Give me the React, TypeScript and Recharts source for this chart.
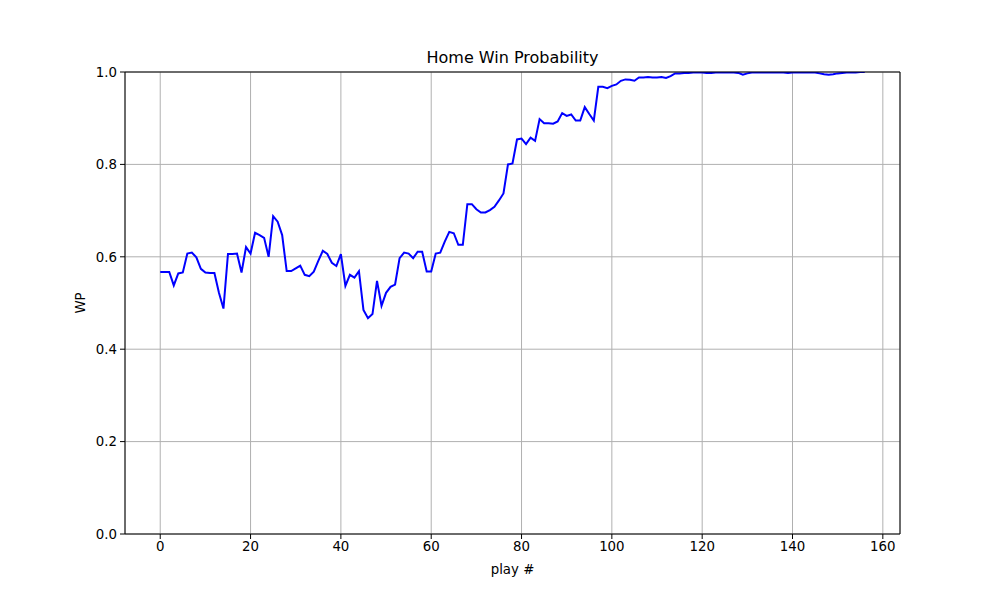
import { CartesianGrid, Line, LineChart, ReferenceLine, XAxis, YAxis } from "recharts"

// home win probability after each play
const wp = [
  0.567, 0.567, 0.567, 0.538, 0.564, 0.566, 0.607, 0.609, 0.599, 0.574,
  0.566, 0.565, 0.565, 0.522, 0.488, 0.606, 0.606, 0.607, 0.566, 0.621,
  0.607, 0.652, 0.647, 0.641, 0.6, 0.688, 0.676, 0.647, 0.569, 0.569,
  0.575, 0.581, 0.561, 0.558, 0.568, 0.591, 0.613, 0.606, 0.587, 0.58,
  0.606, 0.537, 0.561, 0.555, 0.569, 0.485, 0.467, 0.476, 0.548, 0.494,
  0.522, 0.535, 0.54, 0.597, 0.609, 0.607, 0.597, 0.611, 0.611, 0.568,
  0.568, 0.607, 0.609, 0.633, 0.654, 0.651, 0.626, 0.626, 0.714, 0.714,
  0.703, 0.696, 0.696, 0.701, 0.708, 0.722, 0.737, 0.8, 0.802, 0.854,
  0.856, 0.844, 0.858, 0.851, 0.898, 0.889, 0.889, 0.888, 0.893, 0.911,
  0.905, 0.908, 0.895, 0.895, 0.924, 0.909, 0.895, 0.968, 0.968, 0.965,
  0.97, 0.973, 0.981, 0.984, 0.983, 0.981, 0.988, 0.988, 0.989, 0.988,
  0.988, 0.989, 0.987, 0.991, 0.997, 0.997, 0.998, 0.998, 0.999, 0.999,
  0.999, 0.998, 0.998, 0.999, 0.999, 0.999, 0.999, 0.999, 0.998, 0.994,
  0.997, 0.999, 0.999, 0.999, 0.999, 0.999, 0.999, 0.999, 0.999, 0.998,
  0.999, 0.999, 0.999, 0.999, 0.999, 0.999, 0.997, 0.995, 0.994, 0.995,
  0.997, 0.998, 0.999, 0.999, 0.999, 1.0, 1.0,
]

const xTicks = [0, 20, 40, 60, 80, 100, 120, 140, 160]
const yTicks = [0, 0.2, 0.4, 0.6, 0.8, 1.0]
const xDomain = [-7.8, 163.8]

const data = wp.map((v, i) => ({ play: i, wp: v }))

const font = "DejaVu Sans"
const tickStyle = { fontFamily: font, fontSize: 13.33, fill: "#000" }

export default function App() {
  return (
    <div style={{ position: "absolute", left: 0, top: 0, width: 1000, height: 600, background: "#fff" }}>
      <div
        style={{
          position: "absolute",
          top: 48,
          left: 125,
          width: 775,
          textAlign: "center",
          fontFamily: font,
          fontSize: 16,
        }}
      >
        Home Win Probability
      </div>
      <LineChart
        width={1000}
        height={600}
        data={data}
        margin={{ top: 72, right: 100, bottom: 36, left: 65 }}
      >
        <CartesianGrid stroke="#b0b0b0" strokeWidth={1} />
        <XAxis
          dataKey="play"
          type="number"
          domain={xDomain}
          ticks={xTicks}
          allowDataOverflow
          height={30}
          stroke="#000"
          tickSize={5}
          tickMargin={3}
          tick={tickStyle}
          label={{ value: "play #", position: "insideBottom", offset: -10, style: tickStyle }}
        />
        <YAxis
          type="number"
          domain={[0, 1]}
          ticks={yTicks}
          allowDataOverflow
          width={60}
          stroke="#000"
          tickSize={5}
          tickMargin={3}
          tick={tickStyle}
          tickFormatter={(v: number) => v.toFixed(1)}
          label={{ value: "WP", angle: -90, position: "insideLeft", offset: 15, style: { ...tickStyle, textAnchor: "middle" } }}
        />
        <Line
          type="linear"
          dataKey="wp"
          stroke="#0000ff"
          strokeWidth={2}
          dot={false}
          isAnimationActive={false}
        />
        <ReferenceLine y={1} stroke="#000" strokeWidth={1} />
        <ReferenceLine x={xDomain[1]} stroke="#000" strokeWidth={1} />
      </LineChart>
    </div>
  )
}
